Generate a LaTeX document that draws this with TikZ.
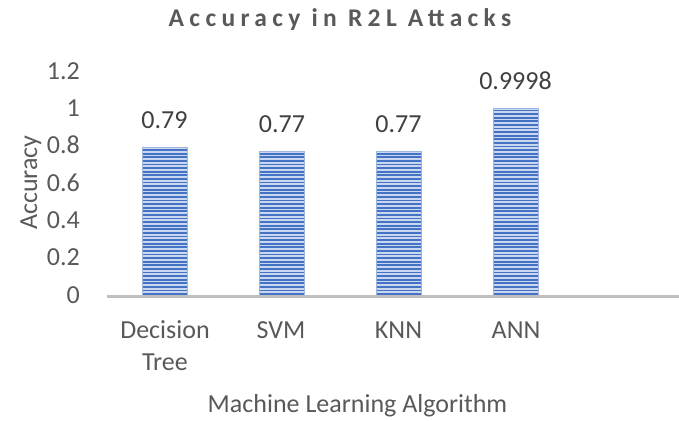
\documentclass[tikz,border=0pt]{standalone}
\usepackage{fontspec}
\setmainfont{Carlito}
\newfontfamily\chartfont{Carlito}
\newfontfamily\titlefont{Carlito}[LetterSpace=21]

\definecolor{axisgrey}{HTML}{BFBFBF}
\definecolor{labelgrey}{HTML}{595959}
\definecolor{valuegrey}{HTML}{404040}
\definecolor{barblue}{HTML}{4472C4}
\definecolor{barlight}{HTML}{C9D8F0}
\definecolor{baredge}{HTML}{9DB4DE}

\tikzset{
  chartfontsize/.style={font=\chartfont\fontsize{26bp}{32bp}\selectfont},
  ticklabel/.style={chartfontsize, anchor=base east, inner sep=0pt, text=labelgrey},
  valuelabel/.style={chartfontsize, anchor=base, inner sep=0pt, text=valuegrey},
  catlabel/.style={chartfontsize, anchor=base, inner sep=0pt, text=labelgrey, align=center},
  axistitle/.style={chartfontsize, anchor=base, inner sep=0pt, text=labelgrey},
  ytitle/.style={chartfontsize, anchor=base, inner sep=0pt, text=labelgrey, rotate=90},
  charttitle/.style={anchor=base, inner sep=0pt, text=labelgrey,
    font=\titlefont\bfseries\fontsize{25.5bp}{30bp}\selectfont},
  axisline/.style={draw=axisgrey, line width=3bp},
  baroutline/.style={draw=baredge, line width=0.8bp},
}

\begin{document}
\begin{tikzpicture}[x=1bp,y=1bp]
\useasboundingbox (0,0) rectangle (679,420);

% striped bars (value scale: 186.67 units per 1.0, baseline at 125)
\foreach \name/\cx/\val in {dt/164.5/0.79, svm/282/0.77, knn/398.5/0.77, ann/515.5/0.9998}{
  \pgfmathsetmacro\barTop{125+186.67*\val}
  \begin{scope}
    \clip (\cx-22.5,125) rectangle (\cx+22.5,\barTop);
    \fill[barlight] (\cx-22.5,125) rectangle (\cx+22.5,\barTop);
    \foreach \k in {0,...,56}
      \fill[barblue] (\cx-22.5,125+3.6*\k) rectangle ++(45,1.8);
  \end{scope}
  \path[baroutline] (\cx-22.5,125) rectangle (\cx+22.5,\barTop);
  \node[valuelabel] (val-\name) at (\cx,\barTop+19) {\val};
}

% category axis
\coordinate (axisL) at (107,123.5);
\coordinate (axisR) at (679,123.5);
\draw[axisline] (axisL) -- (axisR);

% value axis tick labels
\foreach \v/\t in {0/0, 0.2/0.2, 0.4/0.4, 0.6/0.6, 0.8/0.8, 1/1, 1.2/1.2}{
  \node[ticklabel] (tick-\t) at (80,116.8+186.67*\v) {\t};
}

% category labels (a multi-line node sits on the baseline of its last line)
\node[catlabel] (cat-dt)  at (165,50)     {Decision\\Tree};
\node[catlabel] (cat-svm) at (281,82)     {SVM};
\node[catlabel] (cat-knn) at (398.5,82)   {KNN};
\node[catlabel] (cat-ann) at (516,82)     {ANN};

% axis titles
\node[axistitle] (xtitle) at (357.5,8) {Machine Learning Algorithm};
\node[ytitle] (ytitle) at (37,237.5) {Accuracy};

% chart title
\node[charttitle] (title) at (340,393.3) {Accuracy in R2L Attacks};
\end{tikzpicture}
\end{document}
